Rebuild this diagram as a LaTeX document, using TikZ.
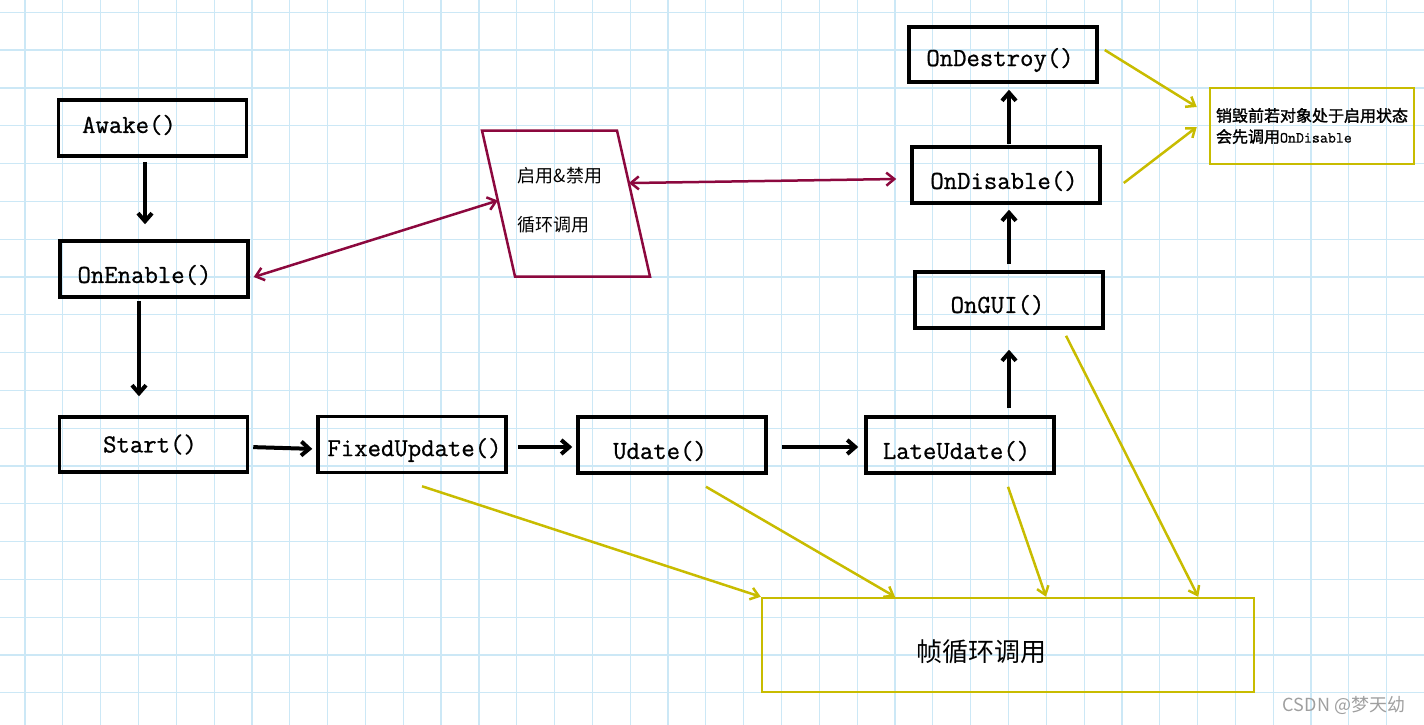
\documentclass[tikz,border=0pt]{standalone}
\usepackage{fontspec}
\newfontfamily\cjk{Noto Sans CJK SC}
\newfontfamily\cjkbf[FakeBold=1.5]{Noto Sans CJK SC}
\newfontfamily\boxmono[FakeBold=0.8]{lmmono12-regular.otf}
\usetikzlibrary{arrows.meta,calc}
\definecolor{gridblue}{RGB}{204,232,246}
\definecolor{linkred}{RGB}{140,8,62}
\definecolor{loopyel}{RGB}{200,188,0}
\tikzset{
  fbox/.style={draw,line width=3.5pt,minimum width=188pt,minimum height=56pt,inner sep=0pt},
  fname/.style={font=\boxmono\fontsize{26pt}{30pt}\selectfont},
  blk/.style={line width=4pt,-{Straight Barb[length=8pt,width=14pt]}},
  dbl/.style={linkred,line width=2.5pt,{Straight Barb[length=8pt,width=13pt]}-{Straight Barb[length=8pt,width=13pt]}},
  ylw/.style={loopyel,line width=2.5pt,-{Straight Barb[length=8pt,width=12pt]}},
}
\begin{document}
\begin{tikzpicture}[x=1pt,y=-1pt]
  \useasboundingbox (0,0) rectangle (1424,725);
  % grid
  \foreach \i in {0,...,36}
    \draw[gridblue,line width=1.2pt] ({25+37.825*\i},0) -- ({25+37.825*\i},725);
  \foreach \j in {0,...,18}
    \draw[gridblue,line width=1.2pt] (0,{12.3+37.8*\j}) -- (1424,{12.3+37.8*\j});

  % life cycle boxes
  \node[fbox,label={[fname,xshift=-23.5pt,yshift=3pt]center:Awake()}] (awake) at (152.5,128) {};
  \node[fbox,label={[fname,xshift=-9.5pt,yshift=-6pt]center:OnEnable()}] (onenable) at (154,269) {};
  \node[fbox,minimum height=55pt,label={[fname,xshift=-3.5pt]center:Start()}] (start) at (153.5,444.5) {};
  \node[fbox,label={[fname,xshift=2.5pt,yshift=-5.5pt]center:FixedUpdate()}] (fixed) at (412,444.5) {};
  \node[fbox,label={[fname,xshift=-12pt,yshift=-6pt]center:Udate()}] (udate) at (672,445) {};
  \node[fbox,label={[fname,xshift=-3.5pt,yshift=-6pt]center:LateUdate()}] (late) at (960,445) {};
  \node[fbox,label={[fname,xshift=-11.5pt,yshift=-5pt]center:OnGUI()}] (ongui) at (1009,300) {};
  \node[fbox,label={[fname,xshift=-2pt,yshift=-6pt]center:OnDisable()}] (ondisable) at (1006,175) {};
  \node[fbox,minimum height=55pt,label={[fname,xshift=-3pt,yshift=-5.5pt]center:OnDestroy()}] (ondestroy) at (1003,54.5) {};

  % enable / disable
  \coordinate (ptl) at (482,130.5);
  \coordinate (ptr) at (617,130.5);
  \coordinate (pbr) at (650,276.5);
  \coordinate (pbl) at (515,276.5);
  \draw[linkred,line width=2.5pt] (ptl) -- (ptr) -- (pbr) -- (pbl) -- cycle;
  \node[align=left,font=\cjk\fontsize{18pt}{49pt}\selectfont] (para) at (560,200) {启用\&禁用\\循环调用};

  % notes
  \node[draw=loopyel,line width=2.5pt,minimum width=204pt,minimum height=76pt,inner sep=0pt,align=left,
        font=\cjkbf\fontsize{16pt}{21pt}\selectfont] (note) at (1312,126)
        {销毁前若对象处于启用状态\\会先调用{\boxmono\fontsize{15.5pt}{21pt}\selectfont OnDisable}};
  \node[draw=loopyel,line width=2.5pt,minimum width=492pt,minimum height=94pt,
        label={[font=\cjk\fontsize{26pt}{30pt}\selectfont,xshift=-26.5pt,yshift=-7pt]center:帧循环调用}] (frame) at (1008,645) {};

  % call order
  \draw[blk,shorten <=4pt,shorten >=15pt] ([shift={(-7.5,0)}]awake.south) -- ([shift={(-9,0)}]onenable.north);
  \draw[blk,shorten <=2pt,shorten >=19pt] ([shift={(-15,0)}]onenable.south) -- ([shift={(-14.5,0)}]start.north);
  \draw[blk,shorten <=4pt,shorten >=4pt] ([shift={(0,2.5)}]start.east) -- ([shift={(0,4.5)}]fixed.west);
  \draw[blk,shorten <=10pt,shorten >=4pt] ([shift={(0,2.5)}]fixed.east) -- ([shift={(0,2)}]udate.west);
  \draw[blk,shorten <=14pt,shorten >=6pt] ([shift={(0,2)}]udate.east) -- ([shift={(0,2)}]late.west);
  \draw[blk,shorten <=7pt,shorten >=20pt] ([shift={(49,0)}]late.north) -- (ongui.south);
  \draw[blk,shorten <=6pt,shorten >=5pt] (ongui.north) -- ([shift={(3,0)}]ondisable.south);
  \draw[blk,shorten <=1pt,shorten >=6pt] ([shift={(3,0)}]ondisable.north) -- ([shift={(6,0)}]ondestroy.south);

  \draw[dbl] ([shift={(4,8)}]onenable.east) -- ($(ptl)!0.48!(pbl)$);
  \draw[dbl] ($(ptr)!0.36!(pbr)$) -- ([shift={(-14,4)}]ondisable.west);

  \draw[ylw] ([shift={(6,-4.5)}]ondestroy.east) -- ([shift={(-12,-19)}]note.west);
  \draw[ylw] ([shift={(22,8)}]ondisable.east) -- ([shift={(-12,1)}]note.west);
  \draw[ylw] ([shift={(10,12)}]fixed.south) -- (frame.north west);
  \draw[ylw] ([shift={(34,12)}]udate.south) -- ([shift={(-113,0)}]frame.north);
  \draw[ylw] ([shift={(48,12)}]late.south) -- ([shift={(38,0)}]frame.north);
  \draw[ylw] ([shift={(57,6)}]ongui.south) -- ([shift={(-57,0)}]frame.north east);

  \node[text=gray!75,font=\cjk\fontsize{18pt}{20pt}\selectfont] (mark) at (1344,705) {CSDN @梦天幼};
\end{tikzpicture}
\end{document}
